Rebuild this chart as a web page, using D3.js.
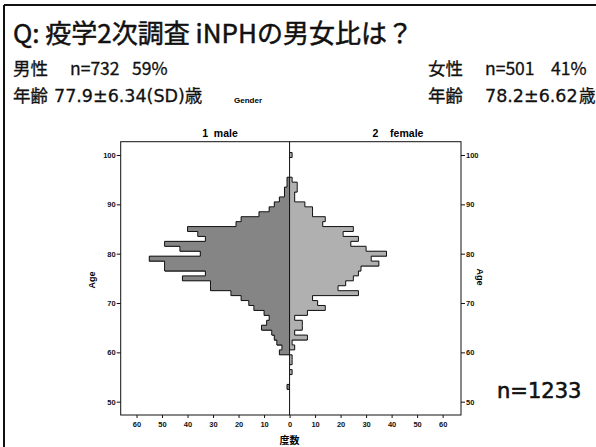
<!DOCTYPE html>
<html><head><meta charset="utf-8">
<script src="https://cdn.jsdelivr.net/npm/d3@7"></script>
<style>
html,body{margin:0;padding:0;background:#fff;}
svg{display:block;}
</style></head>
<body>
<svg id="chart" width="596" height="447"></svg>
<script>
// One-year age bins and patient counts per bin (secondary survey, iNPH)
const ages = d3.range(53, 101);
const maleCounts = [
  1, 0, 0, 0, 0, 0, 0,               // 53-59
  4, 3, 5, 6, 7, 11, 9, 8, 10, 14,   // 60-69
  16, 19, 23, 31, 31, 42, 33, 49, 49, 55, // 70-79
  35, 43, 49, 33, 36, 40, 21, 19, 12, 8,  // 80-89
  6, 4, 2, 2, 1, 1, 0, 0, 0, 0, 0     // 90-100
];
const femaleCounts = [
  0, 0, 0, 1, 0, 1, 1,
  0, 2, 1, 7, 2, 5, 5, 2, 7, 14,
  11, 9, 27, 19, 22, 25, 27, 28, 35, 32,
  38, 30, 24, 27, 21, 25, 13, 14, 9, 9,
  6, 2, 2, 3, 3, 1, 0, 0, 0, 0, 1
];
const countTicks = [-60, -50, -40, -30, -20, -10, 0, 10, 20, 30, 40, 50, 60];
const ageTicks = [50, 60, 70, 80, 90, 100];

const svg = d3.select("#chart");
const W = 596, H = 447;

// slide border
svg.append("line").attr("x1", 4).attr("x2", W).attr("y1", 5).attr("y2", 5)
  .attr("stroke", "#111").attr("stroke-width", 2);
svg.append("line").attr("x1", 4).attr("x2", 4).attr("y1", 5).attr("y2", H)
  .attr("stroke", "#111").attr("stroke-width", 2);

const jp = "'Noto Sans CJK JP', 'Noto Sans', sans-serif";
const wide = "'DejaVu Sans', 'Noto Sans CJK JP', sans-serif";
const sans = "'Liberation Sans', Arial, sans-serif";

// heading
svg.append("text").attr("x", 13).attr("y", 43)
  .attr("font-family", jp).attr("font-size", 26).attr("fill", "#111")
  .attr("stroke", "#111").attr("stroke-width", 0.5)
  .text("Q: 疫学2次調査 iNPHの男女比は？");

// summary lines
function put(px, py, s, fam, size) {
  svg.append("text").attr("x", px).attr("y", py)
    .attr("font-family", fam).attr("font-size", size || 17.5).attr("fill", "#111")
    .attr("stroke", "#111").attr("stroke-width", 0.3)
    .text(s);
}
put(13, 75, "男性", jp);
put(70, 75, "n=732", jp);
put(132, 75, "59%", jp);
put(13, 102, "年齢", wide);
put(54, 102, "77.9±6.34(SD)歳", wide);
put(428, 75, "女性", jp);
put(485, 75, "n=501", jp);
put(551, 75, "41%", jp);
put(428, 102, "年齢", wide);
put(485, 102, "78.2±6.62", wide);
put(579, 102, "歳", wide, 16.5);

// plot frame geometry
const plotL = 120.7, plotR = 461, plotT = 141.7, plotB = 415;
const x = d3.scaleLinear().domain([-66.2, 67.2]).range([plotL, plotR]);
const y = d3.scaleLinear().domain([47.3, 102.7]).range([plotB, plotT]);

const rows = ages.map((a, i) => ({age: a, m: maleCounts[i], f: femaleCounts[i]}));

// bar fills (male to the left of zero, female to the right)
svg.append("g").attr("shape-rendering", "crispEdges")
  .selectAll("rect").data(rows.filter(d => d.m > 0)).join("rect")
  .attr("x", d => x(-d.m)).attr("width", d => x(0) - x(-d.m))
  .attr("y", d => y(d.age + 0.5)).attr("height", d => y(d.age - 0.5) - y(d.age + 0.5) + 0.6)
  .attr("fill", "#858585");
svg.append("g").attr("shape-rendering", "crispEdges")
  .selectAll("rect").data(rows.filter(d => d.f > 0)).join("rect")
  .attr("x", x(0)).attr("width", d => x(d.f) - x(0))
  .attr("y", d => y(d.age + 0.5)).attr("height", d => y(d.age - 0.5) - y(d.age + 0.5) + 0.6)
  .attr("fill", "#b0b0b0");

// stepped outline around each side of the pyramid
function outline(key, sign) {
  const p = d3.path();
  const val = i => (i >= 0 && i < rows.length ? rows[i][key] : 0);
  for (let i = 0; i < rows.length; i++) {
    const a = rows[i].age, v = val(i);
    if (v > 0) {
      p.moveTo(x(sign * v), y(a + 0.5));
      p.lineTo(x(sign * v), y(a - 0.5));
    }
    // boundary below this bin
    const below = val(i - 1);
    if (below !== v) {
      p.moveTo(x(sign * below), y(a - 0.5));
      p.lineTo(x(sign * v), y(a - 0.5));
    }
  }
  const lastI = rows.length - 1, lastV = val(lastI);
  if (lastV > 0) {
    p.moveTo(x(0), y(rows[lastI].age + 0.5));
    p.lineTo(x(sign * lastV), y(rows[lastI].age + 0.5));
  }
  svg.append("path").attr("d", p.toString())
    .attr("fill", "none").attr("stroke", "#111").attr("stroke-width", 1);
}
outline("m", -1);
outline("f", 1);

// zero line and frame
svg.append("line").attr("x1", x(0)).attr("x2", x(0)).attr("y1", plotT).attr("y2", plotB)
  .attr("stroke", "#111").attr("stroke-width", 1);
svg.append("rect").attr("x", plotL).attr("y", plotT)
  .attr("width", plotR - plotL).attr("height", plotB - plotT)
  .attr("fill", "none").attr("stroke", "#111").attr("stroke-width", 1);

function styleAxis(g) {
  g.select(".domain").remove();
  g.selectAll("line").attr("stroke", "#111");
  g.selectAll("text").attr("font-family", sans).attr("font-size", 7.5)
    .attr("font-weight", "bold").attr("fill", "#111");
}

svg.append("g").attr("transform", `translate(0,${plotB})`)
  .call(d3.axisBottom(x).tickValues(countTicks).tickFormat(d => Math.abs(d)).tickSize(3).tickPadding(4))
  .call(styleAxis);
svg.append("g").attr("transform", `translate(${plotL},0)`)
  .call(d3.axisLeft(y).tickValues(ageTicks).tickSize(4).tickPadding(1))
  .call(styleAxis);
svg.append("g").attr("transform", `translate(${plotR},0)`)
  .call(d3.axisRight(y).tickValues(ageTicks).tickSize(4).tickPadding(1))
  .call(styleAxis);

// axis and panel titles
svg.append("text").attr("x", 248).attr("y", 103)
  .attr("font-family", sans).attr("font-size", 8).attr("font-weight", "bold")
  .attr("text-anchor", "middle").text("Gender");
svg.append("text").attr("x", 220).attr("y", 137).attr("xml:space", "preserve")
  .attr("font-family", sans).attr("font-size", 10.5).attr("font-weight", "bold")
  .attr("text-anchor", "middle").text("1  male");
svg.append("text").attr("x", 398).attr("y", 137).attr("xml:space", "preserve")
  .attr("font-family", sans).attr("font-size", 10.5).attr("font-weight", "bold")
  .attr("text-anchor", "middle").text("2    female");
svg.append("text").attr("transform", "translate(95,280) rotate(-90)")
  .attr("font-family", sans).attr("font-size", 9).attr("font-weight", "bold")
  .attr("text-anchor", "middle").text("Age");
svg.append("text").attr("transform", "translate(477,277) rotate(90)")
  .attr("font-family", sans).attr("font-size", 9).attr("font-weight", "bold")
  .attr("text-anchor", "middle").text("Age");
svg.append("text").attr("x", x(0)).attr("y", 444)
  .attr("font-family", jp).attr("font-size", 10).attr("font-weight", "bold")
  .attr("text-anchor", "middle").text("度数");

// total sample size
svg.append("text").attr("x", 497).attr("y", 398)
  .attr("font-family", wide).attr("font-size", 21).attr("fill", "#111")
  .attr("stroke", "#111").attr("stroke-width", 0.6)
  .text("n=1233");
</script>
</body></html>
